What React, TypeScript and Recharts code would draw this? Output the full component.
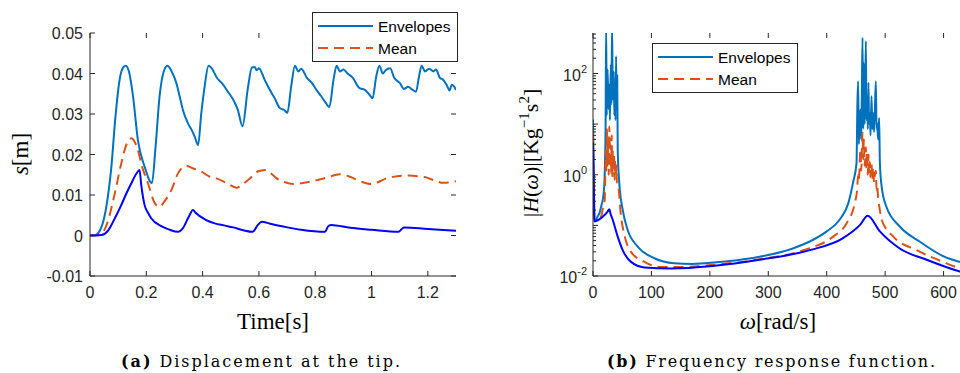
import React from "react";
import { LineChart, Line, XAxis, YAxis } from "recharts";

const AXIS = "#262626";
const C_UP = "#0072BD";
const C_MEAN = "#D95319";
const C_LOW = "#0000FF";
const SANS = "'Liberation Sans', Arial, sans-serif";
const SERIF = "'Liberation Serif', 'Times New Roman', serif";
const CAPTION = "'DejaVu Serif', serif";

const legendNames = ["Envelopes", "Mean"];

// (a) displacement at the tip
const timeTicks = [0, 0.2, 0.4, 0.6, 0.8, 1, 1.2];
const timeTickLabels = ["0", "0.2", "0.4", "0.6", "0.8", "1", "1.2"];
const dispTicks = [-0.01, 0, 0.01, 0.02, 0.03, 0.04, 0.05];
const dispTickLabels = ["-0.01", "0", "0.01", "0.02", "0.03", "0.04", "0.05"];

const upperT = [
  0, 0.015, 0.028, 0.058, 0.076, 0.09, 0.105, 0.118, 0.127, 0.14, 0.153, 0.17, 0.194, 0.22, 0.233, 0.247,
  0.262, 0.275, 0.29, 0.307, 0.318, 0.33, 0.348, 0.36, 0.372, 0.384, 0.395, 0.407, 0.421, 0.435,
  0.45, 0.47, 0.49, 0.509, 0.525, 0.542, 0.56, 0.575, 0.585, 0.592, 0.6, 0.62, 0.639, 0.655, 0.675,
  0.69, 0.701, 0.715, 0.728, 0.74, 0.75, 0.77, 0.79, 0.805, 0.82, 0.835, 0.85, 0.865, 0.876, 0.888,
  0.9, 0.915, 0.935, 0.95, 0.959, 0.975, 0.99, 1.004, 1.016, 1.028, 1.04, 1.05, 1.066, 1.08, 1.101,
  1.115, 1.13, 1.145, 1.158, 1.168, 1.178, 1.19, 1.205, 1.22, 1.229, 1.242, 1.255, 1.268, 1.277,
  1.285, 1.293, 1.3,
];
const upperS = [
  0, 0, 0.0005, 0.0071, 0.017, 0.029, 0.0384, 0.0415, 0.0419, 0.04, 0.0343, 0.0236, 0.017, 0.0129, 0.022, 0.0343,
  0.0405, 0.0419, 0.0405, 0.0376, 0.0345, 0.031, 0.0277, 0.0262, 0.0244, 0.0223, 0.03, 0.0367, 0.0419, 0.041,
  0.039, 0.0375, 0.0355, 0.0335, 0.031, 0.027, 0.036, 0.0415, 0.0416, 0.0408, 0.0413, 0.0385, 0.0359, 0.034, 0.0314,
  0.031, 0.0303, 0.037, 0.0419, 0.0405, 0.0412, 0.039, 0.0375, 0.0359, 0.0345, 0.033, 0.0317, 0.0385, 0.0419, 0.0405,
  0.041, 0.04, 0.0388, 0.037, 0.0363, 0.036, 0.035, 0.0339, 0.039, 0.0419, 0.04, 0.0408, 0.0413, 0.039, 0.0376,
  0.0362, 0.0367, 0.036, 0.0355, 0.039, 0.0419, 0.0405, 0.0412, 0.0405, 0.041, 0.039, 0.0384, 0.037, 0.0358,
  0.0372, 0.0368, 0.0359,
];

const meanT = [
  0, 0.035, 0.046, 0.06, 0.088, 0.111, 0.123, 0.135, 0.147, 0.158, 0.17, 0.185, 0.206, 0.23, 0.2475, 0.265,
  0.289, 0.313, 0.342, 0.365, 0.395, 0.426, 0.449, 0.486, 0.521, 0.545, 0.568, 0.595, 0.622, 0.645,
  0.663, 0.69, 0.722, 0.781, 0.841, 0.888, 0.924, 0.96, 1.0, 1.054, 1.119, 1.184, 1.22, 1.255, 1.3,
];
const meanS = [
  0, 0.0001, 0.0008, 0.0028, 0.0104, 0.0178, 0.0211, 0.0234, 0.024, 0.0232, 0.0211, 0.017, 0.0129, 0.008, 0.0071, 0.0085,
  0.0112, 0.0154, 0.0172, 0.0166, 0.0158, 0.0145, 0.0141, 0.0129, 0.0118, 0.0128, 0.0141, 0.0158, 0.0162, 0.0152,
  0.0141, 0.0132, 0.0127, 0.0133, 0.0143, 0.0151, 0.0145, 0.0134, 0.0127, 0.0141, 0.0148, 0.0145, 0.0137, 0.013, 0.0134,
];

const lowerT = [
  0, 0.04, 0.064, 0.076, 0.09, 0.111, 0.13, 0.147, 0.165, 0.176, 0.182, 0.194, 0.206, 0.218, 0.253, 0.28,
  0.313, 0.33, 0.35, 0.366, 0.375, 0.413, 0.443, 0.475, 0.509, 0.545, 0.578, 0.595, 0.61,
  0.64, 0.687, 0.75, 0.835, 0.845, 0.856, 0.924, 1.0, 1.095, 1.115, 1.2, 1.3,
];
const lowerS = [
  0, 0.0001, 0.0012, 0.0026, 0.0045, 0.0075, 0.0105, 0.0129, 0.0153, 0.0162, 0.0125, 0.0075, 0.0056, 0.0042, 0.0023, 0.0015,
  0.0009, 0.0018, 0.0045, 0.0063, 0.0056, 0.0038, 0.003, 0.0025, 0.002, 0.0013, 0.0009, 0.0025, 0.0034,
  0.0029, 0.0022, 0.0014, 0.0009, 0.0022, 0.0026, 0.0019, 0.0014, 0.0009, 0.002, 0.0016, 0.0012,
];

// (b) frequency response function
const omegaTicks = [0, 100, 200, 300, 400, 500, 600, 700];
const frfTicks = [
  0.01, 0.02, 0.03, 0.04, 0.05, 0.06, 0.07, 0.08, 0.09,
  0.1, 0.2, 0.3, 0.4, 0.5, 0.6, 0.7, 0.8, 0.9,
  1, 2, 3, 4, 5, 6, 7, 8, 9,
  10, 20, 30, 40, 50, 60, 70, 80, 90,
  100, 200, 300, 400, 500, 600,
];
const frfMajorTicks = [0.01, 0.1, 1, 10, 100];
const frfLabelValues = [0.01, 1, 100];
const frfLabelExps = ["-2", "0", "2"];

const frfUpperW = [
  0, 0.8, 1.8, 2.4, 8, 11, 14.5, 16.6, 19.5, 20.5, 21.5, 22.5, 23.5, 25, 26.5, 28, 29, 30.5, 31.5, 32.6, 34,
  35.5, 36.5, 37.5, 38.5, 39.5, 40.5, 41.5, 42.3, 45, 50.8, 59.4, 76.5, 105, 139, 170, 191, 230, 285,
  342, 371, 400, 422, 437, 445, 451, 452.5, 453.8, 455, 456.5, 457.8, 459, 460, 461.3, 462.5, 463.5,
  465, 467, 468, 469.2, 470.3, 471.5, 472.5, 473.8, 475, 476.7, 478, 479.5, 481, 482.5, 484.1, 485.3,
  486.3, 488, 489.7, 491, 494, 502, 525, 559, 605, 628, 700,
];
const frfUpperH = [
  12.3, 2.5, 0.4, 0.12, 0.15, 0.174, 0.25, 0.316, 0.69, 1.7, 8, 900, 15, 120, 20, 60, 12, 150, 25, 900, 30,
  110, 15, 60, 12, 220, 20, 90, 3.2, 0.69, 0.204, 0.081, 0.038, 0.0224, 0.0178, 0.0172, 0.0178, 0.0195, 0.024,
  0.035, 0.048, 0.076, 0.129, 0.275, 0.69, 1.7, 25, 70, 4, 12, 19.5, 5, 30, 510, 8, 162,
  10, 437, 12, 35.5, 8, 66, 10, 16.6, 6, 35.5, 8, 16.6, 7, 20, 70, 8,
  10.5, 5, 13.2, 1.7, 0.59, 0.236, 0.095, 0.048, 0.023, 0.019, 0.011,
];

const frfMeanW = [
  0, 0.8, 1.8, 2.4, 8, 13.7, 17, 20, 21, 22, 23, 24, 25, 26, 27, 28, 29, 30, 31, 32, 33, 34, 35, 36,
  37, 38, 39, 40, 41, 42.3, 48, 53.7, 65, 88, 116, 148, 205, 285, 360, 411, 434, 448,
  452, 453.8, 455, 457.8, 459, 461.3, 462.5, 463.5, 465, 467, 468, 469.2, 470.3, 471.5, 472.5, 473.8,
  475, 476.7, 478, 479.5, 481, 482.5, 484.1, 485.3, 486.3, 488, 491, 494, 514, 554,
  605, 628, 700,
];
const frfMeanH = [
  6.76, 1.8, 0.35, 0.12, 0.13, 0.148, 0.22, 0.32, 0.9, 3, 1.2, 8, 1.5, 5, 1.0, 9, 1.4, 4, 1.1, 6, 0.9, 3, 1.2, 2.5,
  0.8, 2, 0.9, 1.5, 0.7, 0.69, 0.148, 0.065, 0.03, 0.019, 0.0151, 0.0151, 0.0166, 0.0214, 0.0324, 0.06, 0.11, 0.275,
  0.5, 1.0, 0.8, 3.2, 1.2, 6.8, 2, 5, 1.5, 3.5, 1.3, 2.8, 1.0, 2.5, 1.1, 1.8,
  0.9, 1.6, 0.8, 1.4, 0.7, 1.0, 1.2, 0.5, 0.6, 0.35, 0.2, 0.129, 0.06, 0.0324,
  0.0178, 0.0141, 0.009,
];

const frfLowerW = [
  0, 0.8, 1.8, 2.4, 5, 10, 16.6, 25, 28, 30, 33.7, 42.3, 50.8, 65, 88, 133.6, 205, 285,
  371, 428, 457, 470, 491, 525, 571, 628, 700,
];
const frfLowerH = [
  4.27, 1.2, 0.25, 0.12, 0.122, 0.13, 0.148, 0.187, 0.209, 0.17, 0.129, 0.06, 0.0324, 0.019, 0.0148, 0.0141, 0.0158, 0.0209,
  0.0324, 0.056, 0.102, 0.155, 0.076, 0.035, 0.0209, 0.0122, 0.008,
];

const toRows = (xs: number[], ys: number[]) => xs.map((x, i) => ({ x, y: ys[i] }));

const dispUpper = toRows(upperT, upperS);
const dispMean = toRows(meanT, meanS);
const dispLower = toRows(lowerT, lowerS);
const frfUpper = toRows(frfUpperW, frfUpperH);
const frfMean = toRows(frfMeanW, frfMeanH);
const frfLower = toRows(frfLowerW, frfLowerH);

// plot box of chart (a), in its own svg coords
const A_LEFT = 90;
const A_RIGHT = 456;
const A_TOP = 33;
const A_BOTTOM = 276;
// plot box of chart (b), in its own svg coords (svg starts at page x=480)
const B_LEFT = 113;
const B_TOP = 33;
const B_BOTTOM = 276;

const tickText = { fontFamily: SANS, fontSize: 16, fill: AXIS };

function TimeTick(props: any) {
  const { x, payload } = props;
  const i = timeTicks.indexOf(payload.value);
  return (
    <g>
      <line x1={x} x2={x} y1={A_BOTTOM} y2={A_BOTTOM - 5} stroke={AXIS} />
      <line x1={x} x2={x} y1={A_TOP} y2={A_TOP + 5} stroke={AXIS} />
      <text x={x} y={A_BOTTOM + 22} textAnchor="middle" {...tickText}>
        {i >= 0 ? timeTickLabels[i] : String(payload.value)}
      </text>
    </g>
  );
}

function DispTick(props: any) {
  const { y, payload } = props;
  const i = dispTicks.indexOf(payload.value);
  return (
    <g>
      <line x1={A_LEFT} x2={A_LEFT + 5} y1={y} y2={y} stroke={AXIS} />
      <line x1={A_RIGHT} x2={A_RIGHT - 5} y1={y} y2={y} stroke={AXIS} />
      <text x={A_LEFT - 7} y={y} dy={6} textAnchor="end" {...tickText}>
        {i >= 0 ? dispTickLabels[i] : String(payload.value)}
      </text>
    </g>
  );
}

function OmegaTick(props: any) {
  const { x, payload } = props;
  return (
    <g>
      <line x1={x} x2={x} y1={B_BOTTOM} y2={B_BOTTOM - 5} stroke={AXIS} />
      <line x1={x} x2={x} y1={B_TOP} y2={B_TOP + 5} stroke={AXIS} />
      <text x={x} y={B_BOTTOM + 22} textAnchor="middle" {...tickText}>
        {String(payload.value)}
      </text>
    </g>
  );
}

function FrfTick(props: any) {
  const { y, payload } = props;
  const v = payload.value;
  const major = frfMajorTicks.includes(v);
  const li = frfLabelValues.indexOf(v);
  return (
    <g>
      <line x1={B_LEFT} x2={B_LEFT + (major ? 5 : 3)} y1={y} y2={y} stroke={AXIS} />
      {li >= 0 && (
        <text x={B_LEFT - 6} y={y} dy={7} textAnchor="end" {...tickText}>
          10
          <tspan dy={-8} fontSize={11}>
            {frfLabelExps[li]}
          </tspan>
        </text>
      )}
    </g>
  );
}

function LegendBox({ left, top }: { left: number; top: number }) {
  return (
    <div
      style={{
        position: "absolute",
        left,
        top,
        width: 146,
        height: 50,
        boxSizing: "border-box",
        border: `1px solid ${AXIS}`,
        background: "#fff",
      }}
    >
      <svg width={144} height={48} style={{ position: "absolute", left: 0, top: 0 }}>
        <line x1={5} x2={60} y1={13} y2={13} stroke={C_UP} strokeWidth={2} />
        <line x1={5} x2={60} y1={35} y2={35} stroke={C_MEAN} strokeWidth={2} strokeDasharray="10 6" />
        <text x={65} y={13} dy={5.5} fontFamily={SANS} fontSize={15.5} fill="#000">
          {legendNames[0]}
        </text>
        <text x={65} y={35} dy={5.5} fontFamily={SANS} fontSize={15.5} fill="#000">
          {legendNames[1]}
        </text>
      </svg>
    </div>
  );
}

export default function App() {
  return (
    <div style={{ position: "absolute", left: 0, top: 0, width: 960, height: 373, overflow: "hidden", background: "#fff" }}>
      <div style={{ position: "absolute", left: 0, top: 0 }}>
        <LineChart width={480} height={300} margin={{ top: A_TOP, right: 480 - A_RIGHT, bottom: 0, left: A_LEFT - 50 }}>
          <XAxis
            dataKey="x"
            type="number"
            domain={[0, 1.3]}
            ticks={timeTicks}
            interval={0}
            height={24}
            stroke={AXIS}
            tickLine={false}
            tick={(p: any) => <TimeTick {...p} />}
            allowDataOverflow
          />
          <XAxis xAxisId="top" orientation="top" type="number" domain={[0, 1.3]} height={0} tick={false} tickLine={false} stroke={AXIS} />
          <YAxis
            type="number"
            domain={[-0.01, 0.05]}
            ticks={dispTicks}
            interval={0}
            width={50}
            stroke={AXIS}
            tickLine={false}
            tick={(p: any) => <DispTick {...p} />}
            allowDataOverflow
          />
          <YAxis yAxisId="right" orientation="right" type="number" domain={[-0.01, 0.05]} width={0} tick={false} tickLine={false} stroke={AXIS} />
          <Line data={dispUpper} dataKey="y" type="monotone" stroke={C_UP} strokeWidth={2} dot={false} isAnimationActive={false} />
          <Line data={dispMean} dataKey="y" type="monotone" stroke={C_MEAN} strokeWidth={2} strokeDasharray="10 6" dot={false} isAnimationActive={false} />
          <Line data={dispLower} dataKey="y" type="monotone" stroke={C_LOW} strokeWidth={2} dot={false} isAnimationActive={false} />
        </LineChart>
      </div>

      <div style={{ position: "absolute", left: 480, top: 0 }}>
        <LineChart width={542} height={300} margin={{ top: B_TOP, right: 20, bottom: 0, left: B_LEFT - 60 }}>
          <XAxis
            dataKey="x"
            type="number"
            domain={[0, 700]}
            ticks={omegaTicks}
            interval={0}
            height={24}
            stroke={AXIS}
            tickLine={false}
            tick={(p: any) => <OmegaTick {...p} />}
            allowDataOverflow
          />
          <XAxis xAxisId="top" orientation="top" type="number" domain={[0, 700]} height={0} tick={false} tickLine={false} stroke={AXIS} />
          <YAxis
            type="number"
            scale="log"
            domain={[0.01, 631]}
            ticks={frfTicks}
            interval={0}
            width={60}
            stroke={AXIS}
            tickLine={false}
            tick={(p: any) => <FrfTick {...p} />}
            allowDataOverflow
          />
          <Line data={frfUpper} dataKey="y" type="monotone" stroke={C_UP} strokeWidth={2} dot={false} isAnimationActive={false} />
          <Line data={frfMean} dataKey="y" type="monotone" stroke={C_MEAN} strokeWidth={2} strokeDasharray="10 6" dot={false} isAnimationActive={false} />
          <Line data={frfLower} dataKey="y" type="monotone" stroke={C_LOW} strokeWidth={2} dot={false} isAnimationActive={false} />
        </LineChart>
      </div>

      <svg width={960} height={373} style={{ position: "absolute", left: 0, top: 0, pointerEvents: "none" }}>
        <g fontFamily={SERIF} fill="#000">
          <text x={273} y={329} fontSize={23} textAnchor="middle">Time[s]</text>
          <text x={28} y={154} fontSize={23} textAnchor="middle" transform="rotate(-90 28 154)">
            <tspan fontStyle="italic">s</tspan>[m]
          </text>
          <text x={778} y={329} fontSize={23} textAnchor="middle">
            <tspan fontStyle="italic">ω</tspan>[rad/s]
          </text>
          <text x={538} y={153} fontSize={22} textAnchor="middle" transform="rotate(-90 538 153)">
            |<tspan fontStyle="italic">H</tspan>(<tspan fontStyle="italic">ω</tspan>)|[Kg
            <tspan dy={-9} fontSize={15}>−1</tspan>
            <tspan dy={9}>s</tspan>
            <tspan dy={-9} fontSize={15}>2</tspan>
            <tspan dy={9}>]</tspan>
          </text>
        </g>
        <g fontFamily={CAPTION} fill="#000">
          <text x={260.5} y={367} fontSize={16} textAnchor="middle" textLength={279} lengthAdjust="spacing">
            <tspan fontWeight="bold">(a)</tspan> Displacement at the tip.
          </text>
          <text x={771} y={367} fontSize={16} textAnchor="middle" textLength={328} lengthAdjust="spacing">
            <tspan fontWeight="bold">(b)</tspan> Frequency response function.
          </text>
        </g>
      </svg>

      <LegendBox left={312} top={12} />
      <LegendBox left={652} top={43} />
    </div>
  );
}
